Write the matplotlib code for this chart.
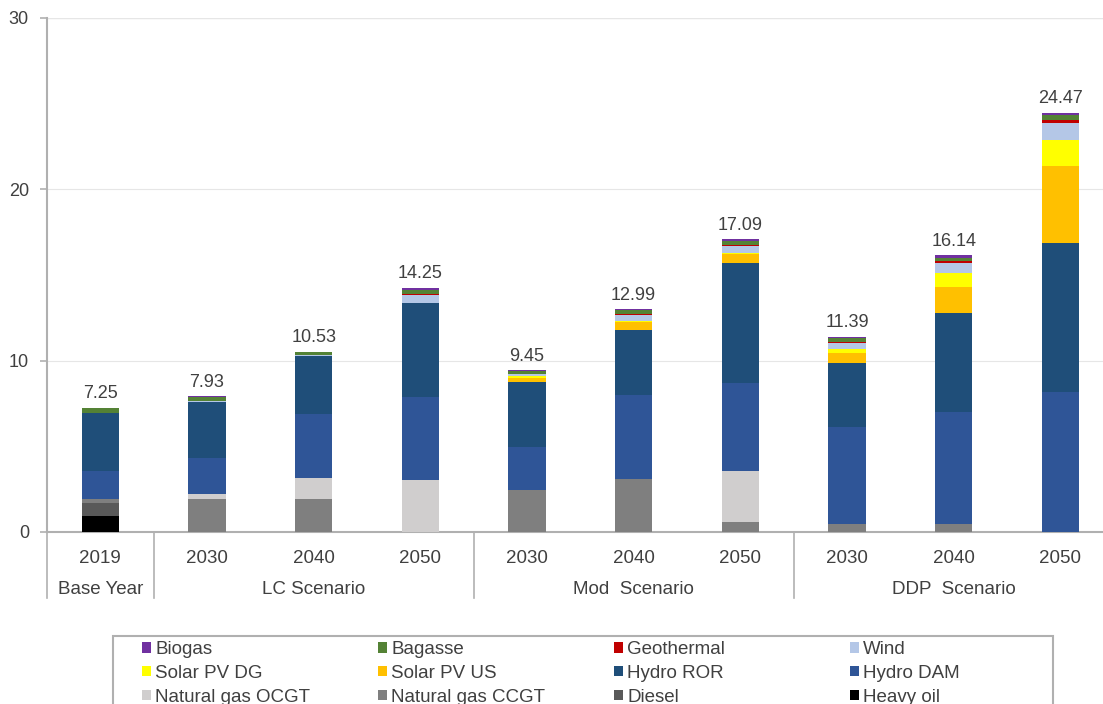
import matplotlib.pyplot as plt
import numpy as np
from matplotlib.patches import Rectangle

plt.rcParams['font.family'] = ['Liberation Sans', 'DejaVu Sans']

# categorias do eixo x
years = ['2019', '2030', '2040', '2050', '2030', '2040', '2050', '2030', '2040', '2050']
groups = ['Base Year', 'LC Scenario', 'Mod  Scenario', 'DDP  Scenario']
group_first = [0, 1, 4, 7]
group_last = [0, 3, 6, 9]

# valores (GW), de baixo para cima
heavy_oil = [0.95, 0, 0, 0, 0, 0, 0, 0, 0, 0]
diesel = [0.73, 0, 0, 0, 0, 0, 0, 0, 0, 0]
gas_ccgt = [0.23, 1.91, 1.95, 0, 2.45, 3.08, 0.60, 0.45, 0.45, 0]
gas_ocgt = [0, 0.31, 1.18, 3.04, 0, 0, 2.98, 0, 0, 0]
hydro_dam = [1.67, 2.08, 3.76, 4.86, 2.53, 4.92, 5.14, 5.70, 6.57, 8.19]
hydro_ror = [3.38, 3.31, 3.38, 5.48, 3.79, 3.79, 7.00, 3.74, 5.78, 8.66]
solar_us = [0, 0, 0, 0, 0.23, 0.49, 0.51, 0.54, 1.48, 4.52]
solar_dg = [0, 0, 0, 0, 0.10, 0.05, 0.05, 0.24, 0.86, 1.51]
wind = [0, 0.03, 0.04, 0.47, 0.10, 0.34, 0.42, 0.38, 0.58, 1.00]
geothermal = [0, 0, 0, 0.05, 0.05, 0.06, 0.07, 0.06, 0.07, 0.17]
bagasse = [0.25, 0.25, 0.18, 0.20, 0.15, 0.20, 0.22, 0.20, 0.22, 0.30]
biogas = [0.04, 0.04, 0.04, 0.15, 0.05, 0.06, 0.10, 0.08, 0.13, 0.12]

series = [
    ('Heavy oil', heavy_oil, '#000000'),
    ('Diesel', diesel, '#595959'),
    ('Natural gas CCGT', gas_ccgt, '#7f7f7f'),
    ('Natural gas OCGT', gas_ocgt, '#d0cece'),
    ('Hydro DAM', hydro_dam, '#2f5597'),
    ('Hydro ROR', hydro_ror, '#1f4e79'),
    ('Solar PV US', solar_us, '#ffc000'),
    ('Solar PV DG', solar_dg, '#ffff00'),
    ('Wind', wind, '#b4c7e7'),
    ('Geothermal', geothermal, '#c00000'),
    ('Bagasse', bagasse, '#548235'),
    ('Biogas', biogas, '#7030a0'),
]

txt = '#404040'
linha = '#b0b0b0'
W, H = 1103, 704

fig = plt.figure(figsize=(W / 100, H / 100), dpi=100)
ax = fig.add_axes([47 / W, 1 - 532 / H, 1 - 47 / W, (532 - 18) / H])

x = np.arange(len(years))
bottom = np.zeros(len(years))
handles = {}
for name, vals, color in series:
    vals = np.array(vals, dtype=float)
    bars = ax.bar(x, vals, width=0.35, bottom=bottom, color=color, linewidth=0, zorder=3)
    handles[name] = bars
    bottom += vals

# rotulos com o total
for xi, total in zip(x, bottom):
    ax.annotate(f'{total:.2f}', (xi, total), xytext=(0, 4), textcoords='offset points',
                ha='center', va='bottom', fontsize=13, color=txt)

ax.set_xlim(-0.5, 9.4)
ax.set_ylim(0, 30)
ax.set_yticks([0, 10, 20, 30])
ax.tick_params(axis='y', length=5, width=1.2, color=linha, pad=8, labelsize=13, labelcolor=txt)
ax.set_xticks([])
ax.grid(axis='y', color='#e6e6e6', linewidth=0.8, zorder=0)
ax.axhline(30, color=linha, linewidth=1.5, zorder=1)

for s in ['top', 'right']:
    ax.spines[s].set_visible(False)
for s in ['left', 'bottom']:
    ax.spines[s].set_color(linha)
    ax.spines[s].set_linewidth(1.5)

# anos e grupos abaixo do eixo
trans = ax.get_xaxis_transform()
for xi, yr in zip(x, years):
    ax.text(xi, -0.051, yr, transform=trans, ha='center', va='center', fontsize=13.5, color=txt)
for g, a, b in zip(groups, group_first, group_last):
    ax.text((a + b) / 2, -0.111, g, transform=trans, ha='center', va='center', fontsize=13.5, color=txt)
for a in group_first:
    ax.plot([a - 0.5, a - 0.5], [0, -0.128], transform=trans, color=linha, linewidth=1.2, clip_on=False)

# legenda: 4 colunas de largura fixa, lidas por linha
order = [name for name, _, _ in series][::-1]
ncol = 4
col_x = [142, 378, 614, 850]
for c in range(ncol):
    names = order[c::ncol]
    leg = fig.legend([handles[n] for n in names], names, loc='upper left',
                     bbox_to_anchor=(col_x[c] / W, 1 - 641 / H), frameon=False,
                     fontsize=13.5, handlelength=0.5, handleheight=0.5, handletextpad=0.2,
                     labelspacing=0.36, borderpad=0, borderaxespad=0)
    for t in leg.get_texts():
        t.set_color(txt)

fig.patches.append(Rectangle((113 / W, -0.05), (1053 - 113) / W, 0.05 + 1 - 636 / H,
                             transform=fig.transFigure, fill=False, edgecolor=linha, linewidth=1.5))

fig.savefig('out.png', dpi=100)
